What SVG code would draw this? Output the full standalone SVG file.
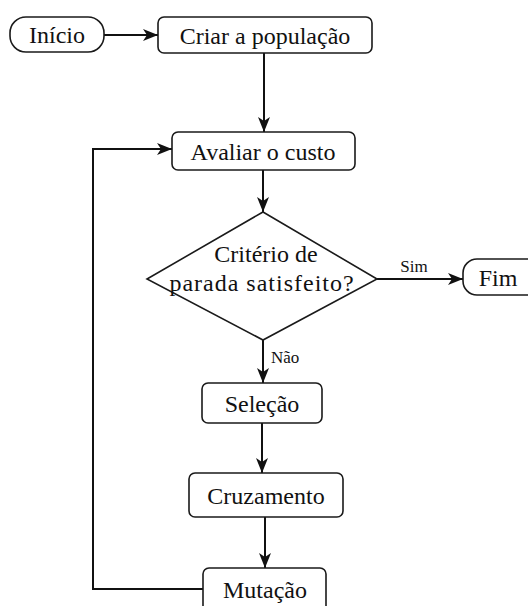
<svg xmlns="http://www.w3.org/2000/svg" width="528" height="606" viewBox="0 0 528 606">
<style>
.box{fill:#fff;stroke:#1a1a1a;stroke-width:1.6}
.t{font-family:"Liberation Serif",serif;font-size:24px;fill:#111;text-anchor:middle}
.d{letter-spacing:1px}
.s{font-family:"Liberation Serif",serif;font-size:17px;fill:#111}
.c{fill:none;stroke:#111;stroke-width:2}
</style>
<defs>
<marker id="ah" viewBox="0 0 15 12" refX="15" refY="6" markerWidth="15" markerHeight="12" markerUnits="userSpaceOnUse" orient="auto">
<path d="M0,0 L15,6 L0,12 L4,6 Z" fill="#111"/>
</marker>
</defs>
<g id="connectors">
<line class="c" x1="104" y1="35" x2="158" y2="35" marker-end="url(#ah)"/>
<line class="c" x1="264" y1="53" x2="264" y2="132" marker-end="url(#ah)"/>
<line class="c" x1="263" y1="170" x2="263" y2="212" marker-end="url(#ah)"/>
<line class="c" x1="377" y1="279" x2="463" y2="279" marker-end="url(#ah)"/>
<line class="c" x1="263" y1="340" x2="263" y2="383" marker-end="url(#ah)"/>
<line class="c" x1="262" y1="423" x2="262" y2="473" marker-end="url(#ah)"/>
<line class="c" x1="265" y1="517" x2="265" y2="568" marker-end="url(#ah)"/>
<polyline class="c" points="203,589 93,589 93,149 172,149" marker-end="url(#ah)"/>
<text class="s" x="414" y="272" text-anchor="middle">Sim</text>
<text class="s" x="271" y="363">Não</text>
</g>
<g id="inicio">
<rect class="box" x="10" y="17" width="94" height="35" rx="16"/>
<text class="t" x="57" y="43">Início</text>
</g>
<g id="criar">
<rect class="box" x="158" y="17" width="214" height="36" rx="6"/>
<text class="t" x="265" y="44">Criar a população</text>
</g>
<g id="avaliar">
<rect class="box" x="172" y="132" width="183" height="38" rx="6"/>
<text class="t" x="263" y="160">Avaliar o custo</text>
</g>
<g id="criterio">
<polygon class="box" points="263,212 377,279 263,340 147,279"/>
<text class="t" x="266" y="262">Critério de</text>
<text class="t d" x="262" y="291">parada satisfeito?</text>
</g>
<g id="fim">
<rect class="box" x="463" y="259" width="80" height="36" rx="14"/>
<text class="t" x="498" y="286">Fim</text>
</g>
<g id="selecao">
<rect class="box" x="202" y="383" width="120" height="40" rx="6"/>
<text class="t" x="262" y="412">Seleção</text>
</g>
<g id="cruzamento">
<rect class="box" x="189" y="473" width="154" height="44" rx="6"/>
<text class="t" x="266" y="504">Cruzamento</text>
</g>
<g id="mutacao">
<rect class="box" x="203" y="568" width="123" height="50" rx="6"/>
<text class="t" x="265" y="598">Mutação</text>
</g>
</svg>
